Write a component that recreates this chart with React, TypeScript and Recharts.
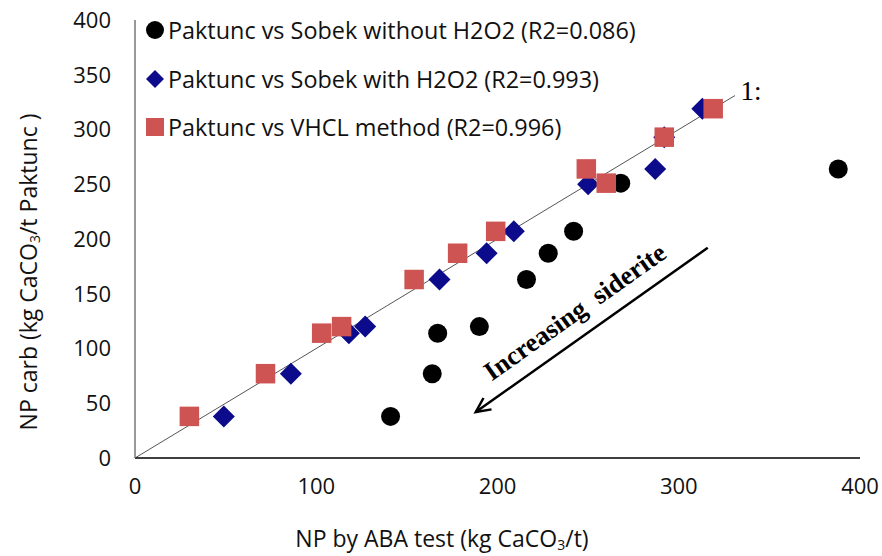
import React from "react";
import {
  ScatterChart,
  Scatter,
  XAxis,
  YAxis,
  ReferenceLine,
  ReferenceDot,
  Label,
} from "recharts";

// NP by ABA test (x) vs NP carb Paktunc (y), kg CaCO3/t
const sobekNoH2O2 = [
  { x: 141, y: 38 },
  { x: 164, y: 77 },
  { x: 167, y: 114 },
  { x: 190, y: 120 },
  { x: 216, y: 163 },
  { x: 228, y: 187 },
  { x: 242, y: 207 },
  { x: 268, y: 251 },
  { x: 388, y: 264 },
];

const sobekH2O2 = [
  { x: 49, y: 38 },
  { x: 86, y: 77 },
  { x: 118, y: 114 },
  { x: 127, y: 120 },
  { x: 168, y: 163 },
  { x: 194, y: 187 },
  { x: 209, y: 207 },
  { x: 250, y: 250 },
  { x: 287, y: 264 },
  { x: 292, y: 293 },
  { x: 313, y: 319 },
];

const vhcl = [
  { x: 30, y: 38 },
  { x: 72, y: 77 },
  { x: 103, y: 114 },
  { x: 114, y: 120 },
  { x: 154, y: 163 },
  { x: 178, y: 187 },
  { x: 199, y: 207 },
  { x: 249, y: 264 },
  { x: 260, y: 251 },
  { x: 292, y: 293 },
  { x: 319, y: 319 },
];

const seriesNames = [
  "Paktunc vs Sobek without H2O2 (R2=0.086)",
  "Paktunc vs Sobek with H2O2 (R2=0.993)",
  "Paktunc vs VHCL method (R2=0.996)",
];

const xTicks = [0, 100, 200, 300, 400];
const yTicks = [0, 50, 100, 150, 200, 250, 300, 350, 400];

const oneToOne = [{ x: 0, y: 0 }, { x: 331, y: 331 }];
const sideriteArrow = [{ x: 316, y: 192 }, { x: 188, y: 42 }];

const FONT = "'Open Sans', sans-serif";
const BLUE = "#0b0b8c";
const RED = "#cd5452";
const SANS = "#111";

const Circle = (p: any) => <circle cx={p.cx} cy={p.cy} r={9.5} fill="#000" />;
const Diamond = (p: any) => (
  <polygon
    points={`${p.cx},${p.cy - 11} ${p.cx + 11},${p.cy} ${p.cx},${p.cy + 11} ${p.cx - 11},${p.cy}`}
    fill={BLUE}
  />
);
const Square = (p: any) => (
  <rect x={p.cx - 9.75} y={p.cy - 9.75} width={19.5} height={19.5} fill={RED} />
);

const legendIcons = [
  <svg width="20" height="20"><circle cx="10" cy="10" r="9" fill="#000" /></svg>,
  <svg width="20" height="20"><polygon points="10,1 19,10 10,19 1,10" fill={BLUE} /></svg>,
  <svg width="20" height="20"><rect x="1" y="1" width="18" height="18" fill={RED} /></svg>,
];

const ArrowShape = (p: any) => {
  const { x1, y1, x2, y2 } = p;
  const ang = Math.atan2(y2 - y1, x2 - x1);
  const len = 16;
  const a1 = ang + Math.PI - 0.45;
  const a2 = ang + Math.PI + 0.45;
  const deg = (Math.atan2(y1 - y2, x1 - x2) * 180) / Math.PI;
  const mx = (x1 + x2) / 2;
  const my = (y1 + y2) / 2;
  const tx = mx - Math.sin(ang) * 17 - 2;
  const ty = my + Math.cos(ang) * 17 + 3;
  return (
    <g>
      <line x1={x1} y1={y1} x2={x2} y2={y2} stroke="#000" strokeWidth={2.5} />
      <polyline
        points={`${x2 + len * Math.cos(a1)},${y2 + len * Math.sin(a1)} ${x2},${y2} ${x2 + len * Math.cos(a2)},${y2 + len * Math.sin(a2)}`}
        fill="none"
        stroke="#000"
        strokeWidth={2.5}
      />
      <text
        x={tx}
        y={ty}
        transform={`rotate(${deg} ${tx} ${ty})`}
        textAnchor="middle"
        fontFamily="'Liberation Serif', serif"
        fontWeight="bold"
        fontSize={26.5}
        fill="#000"
        style={{ whiteSpace: "pre" }}
      >
        {"Increasing  siderite"}
      </text>
    </g>
  );
};

const YLabel = () => {
  const cx = 28;
  const cy = 272;
  return (
    <text
      x={cx}
      y={cy}
      transform={`rotate(-90 ${cx} ${cy})`}
      textAnchor="middle"
      dominantBaseline="central"
      fontFamily={FONT}
      fontSize={23}
      fill={SANS}
    >
      NP carb (kg CaCO<tspan fontSize={14} dy={6}>3</tspan>
      <tspan dy={-6}>/t Paktunc )</tspan>
    </text>
  );
};

const XLabel = () => {
  const cx = 442;
  const cy = 538;
  return (
    <text x={cx} y={cy} textAnchor="middle" dominantBaseline="central" fontFamily={FONT} fontSize={23} fill={SANS}>
      NP by ABA test (kg CaCO<tspan fontSize={14} dy={6}>3</tspan>
      <tspan dy={-6}>/t)</tspan>
    </text>
  );
};

export default function App() {
  return (
    <div style={{ position: "absolute", left: 0, top: 0, width: 882, height: 556, background: "#fff" }}>
      <ScatterChart width={882} height={556} margin={{ top: 20, right: 22, left: 0, bottom: 0 }}>
        <XAxis
          type="number"
          dataKey="x"
          domain={[0, 400]}
          ticks={xTicks}
          height={98}
          tickLine={false}
          tickSize={0}
          tickMargin={20}
          axisLine={{ stroke: "#000", strokeWidth: 1.5 }}
          tick={{ fontFamily: FONT, fontSize: 22, fill: SANS }}
        >
          <Label content={XLabel} />
        </XAxis>
        <YAxis
          type="number"
          dataKey="y"
          domain={[0, 400]}
          ticks={yTicks}
          width={135}
          tickLine={false}
          tickSize={0}
          tickMargin={24}
          axisLine={{ stroke: "#777", strokeWidth: 1.5 }}
          tick={{ fontFamily: FONT, fontSize: 22, fill: SANS }}
        >
          <Label content={YLabel} />
        </YAxis>
        <Scatter name={seriesNames[0]} data={sobekNoH2O2} shape={Circle} isAnimationActive={false} />
        <Scatter name={seriesNames[1]} data={sobekH2O2} shape={Diamond} isAnimationActive={false} />
        <Scatter name={seriesNames[2]} data={vhcl} shape={Square} isAnimationActive={false} />
        <ReferenceLine segment={oneToOne} stroke="#555" strokeWidth={1} ifOverflow="extendDomain" />
        <ReferenceLine segment={sideriteArrow} shape={ArrowShape} />
        <ReferenceDot
          x={334}
          y={336}
          r={0}
          fill="none"
          stroke="none"
          label={{ value: "1:", position: "right", fontFamily: "'Liberation Serif', serif", fontSize: 27, fill: "#000", offset: 0 }}
        />
      </ScatterChart>
      <div
        style={{
          position: "absolute",
          left: 145,
          top: 6,
          fontFamily: FONT,
          fontSize: 23.4,
          color: SANS,
          whiteSpace: "nowrap",
        }}
      >
        {seriesNames.map((n, i) => (
          <div key={n} style={{ display: "flex", alignItems: "center", height: 48.5 }}>
            {legendIcons[i]}
            <span style={{ marginLeft: 3 }}>{n}</span>
          </div>
        ))}
      </div>
    </div>
  );
}
